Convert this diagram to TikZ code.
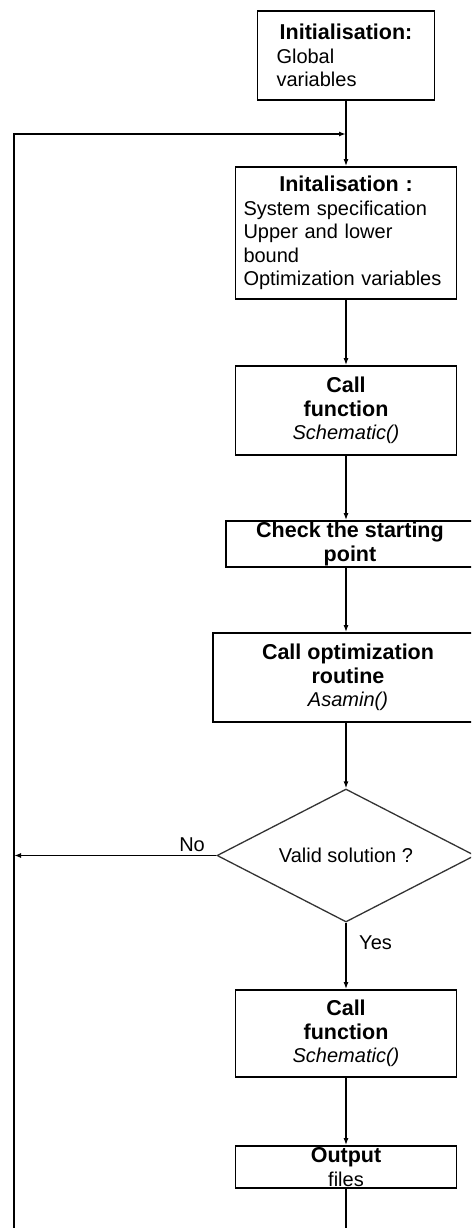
\documentclass[tikz,border=0pt]{standalone}
\usepackage{fontspec}
\setmainfont{Liberation Sans}
\usetikzlibrary{arrows.meta,shapes.geometric}
\tikzset{node distance=2.0cm, auto}
\newcommand{\hd}[1]{{\fontsize{21.5}{23.5}\selectfont\textbf{#1}}}

\begin{document}
\begin{tikzpicture}[
  x=1pt, y=-1pt,
  font=\fontsize{20}{23.5}\selectfont,
  line width=1.8pt,
  stepbox/.style={draw, rectangle, inner sep=0pt, align=center, minimum width=221pt},
  testbox/.style={draw=black!80, diamond, inner sep=0pt, aspect=2, line width=1.3pt},
  arr/.style={-{Latex[length=7pt,width=5pt]}}
]
\useasboundingbox (0,0) rectangle (471,1228);
\clip (0,0) rectangle (471,1228);
\node[stepbox, minimum width=177pt, minimum height=89pt, text width=139pt, align=left] (glob) at (346,55.5)
  {\makebox[\linewidth]{\hd{Initialisation:}}\\Global\\variables};
\node[stepbox, minimum height=132pt, text width=205pt, align=left] (init) at (346,233)
  {\makebox[\linewidth]{\hd{Initalisation :}}\\System specification\\Upper and lower\\bound\\Optimization variables};
\node[stepbox, minimum height=89pt] (sch1) at (346,410.5) {\hd{Call}\\\hd{function}\\\textit{Schematic()}};
\node[stepbox, minimum width=248pt, minimum height=46pt] (check) at (350,544) {\hd{Check the starting}\\\hd{point}};
\node[stepbox, minimum width=270pt, minimum height=89pt] (asamin) at (348,677.5) {\hd{Call optimization}\\\hd{routine}\\\textit{Asamin()}};
\node[testbox, minimum width=258pt, minimum height=133pt] (valid) at (346,855.5) {Valid solution ?};
\node[stepbox, minimum height=87pt] (sch2) at (346,1033.5) {\hd{Call}\\\hd{function}\\\textit{Schematic()}};
\node[stepbox, minimum height=42pt] (files) at (346,1167) {\hd{Output}\\files};
\coordinate (loopIn) at (346,134);
\coordinate (loopBot) at (14,1240);
\coordinate (outEnd) at (346,1240);

\draw[arr] (glob) -- (init);
\draw[arr] (init) -- (sch1);
\draw[arr] (sch1) -- (sch1 |- check.north);
\draw[arr] (check.south -| sch1) -- (sch1 |- asamin.north);
\draw[arr] (asamin.south -| valid) -- (valid.north);
\draw[arr] (valid) -- node[pos=0.3, right=9pt] {Yes} (sch2);
\draw[arr] (sch2) -- (files);
\draw (files) -- (outEnd);
\draw[arr] (valid.west) -- node[pos=0.12, above] {No} (valid.west -| loopBot);
\draw[arr] (loopBot) |- (loopIn);
\end{tikzpicture}
\end{document}
